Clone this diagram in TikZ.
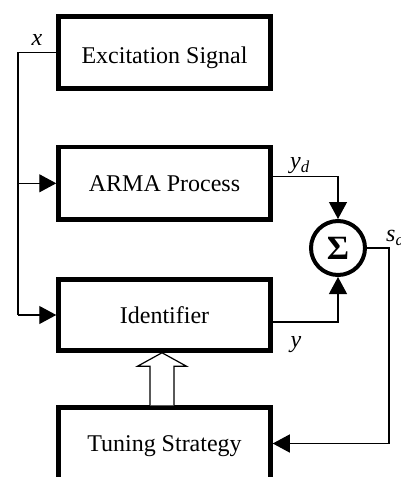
\documentclass[tikz,border=0pt]{standalone}
\usepackage{fontspec}
\setmainfont{Liberation Serif}
\usetikzlibrary{arrows.meta,calc}
\begin{document}
\begin{tikzpicture}[x=1pt,y=-1pt,
  block/.style={draw,line width=4.5pt,minimum width=212pt,minimum height=72pt,font=\fontsize{24}{28}\selectfont,inner sep=0pt,text height=16pt,text depth=0pt},
  wire/.style={line width=1.2pt},
  arr/.style={wire,-{Triangle[length=17pt,width=18pt]}},
  lbl/.style={font=\fontsize{24}{28}\selectfont\itshape,inner sep=0pt}]
\useasboundingbox (0,0) rectangle (400,477);
\node[block] (exc) at (164.5,52.5) {\raisebox{-2.5pt}{Excitation Signal}};
\node[block,minimum height=72.5pt] (arma) at (164.5,183.3) {ARMA Process};
\node[block,minimum height=71pt] (ident) at (164.5,315) {Identifier};
\node[block] (tune) at (164.5,443.5) {Tuning Strategy};
\node[draw,circle,line width=4pt,minimum size=54pt,inner sep=0pt,font=\fontsize{34}{34}\selectfont\bfseries] (sum) at (338,248) {Σ};
\coordinate (bus) at (18,315);
\coordinate (sdc) at (389,248);
\draw[wire] (exc.west) -- (bus |- exc.west) -- (bus);
\draw[arr] (bus |- arma.west) -- (arma.west);
\draw[arr] (bus) -- (ident.west);
\draw[arr] ($(arma.east)+(0,-7)$) -| (sum.north);
\draw[arr] ($(ident.east)+(0,7)$) -| (sum.south);
\draw[arr] (sum.east) -- (sdc) |- (tune.east);
\draw[wire,fill=white] ($(tune.north)+(-14.5,0)$) -- ($(tune.north)+(-14.5,-39)$) -- ($(tune.north)+(-27,-39)$) -- ($(ident.south)+(-2.5,0)$) -- ($(tune.north)+(22,-39)$) -- ($(tune.north)+(9.5,-39)$) -- ($(tune.north)+(9.5,0)$);
\node[lbl] (lx) at (37,40) {x};
\node[lbl] (lyd) at (300,166) {y\textsubscript{d}};
\node[lbl] (ly) at (296,345) {y};
\node[lbl,anchor=west] (lsd) at (386,238) {s\textsubscript{d}};
\end{tikzpicture}
\end{document}
